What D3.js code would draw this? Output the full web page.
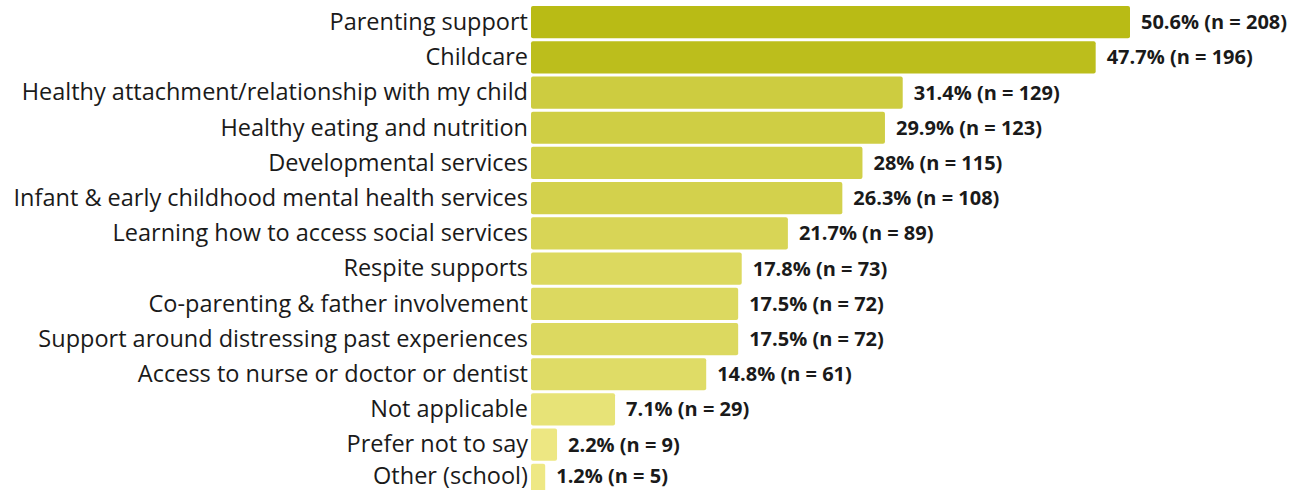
<!DOCTYPE html>
<html>
<head>
<meta charset="utf-8">
<script src="https://cdn.jsdelivr.net/npm/d3@7"></script>
<style>
  html, body { margin: 0; padding: 0; background: #fff; }
  svg { display: block; }
  .cat { font-family: "Open Sans", Lato, sans-serif; font-size: 23.5px; fill: #1a1a1a; }
  .val { font-family: "Open Sans", Lato, sans-serif; font-size: 20px; font-weight: 700; fill: #1a1a1a; }
</style>
</head>
<body>
<svg id="chart" width="1305" height="490"></svg>
<script>
const categories = [
  "Parenting support",
  "Childcare",
  "Healthy attachment/relationship with my child",
  "Healthy eating and nutrition",
  "Developmental services",
  "Infant & early childhood mental health services",
  "Learning how to access social services",
  "Respite supports",
  "Co-parenting & father involvement",
  "Support around distressing past experiences",
  "Access to nurse or doctor or dentist",
  "Not applicable",
  "Prefer not to say",
  "Other (school)"
];
const percents = [50.6, 47.7, 31.4, 29.9, 28, 26.3, 21.7, 17.8, 17.5, 17.5, 14.8, 7.1, 2.2, 1.2];
const counts = [208, 196, 129, 123, 115, 108, 89, 73, 72, 72, 61, 29, 9, 5];

const data = categories.map((c, i) => ({ cat: c, pct: percents[i], n: counts[i] }));

const svg = d3.select("#chart");
const plotLeft = 531, plotTop = 6;
const x = d3.scaleLinear().domain([0, 50.6]).range([plotLeft, 1130]);
const y = d3.scaleBand().domain(categories)
  .range([plotTop, plotTop + 35 * categories.length])
  .paddingInner(3 / 35).paddingOuter(0).align(0);
const color = d3.scaleLinear().domain([0, 50.6]).range(["#efe987", "#b9bb15"]).interpolate(d3.interpolateRgb);

const g = svg.append("g");

g.selectAll("rect.bar").data(data).join("rect")
  .attr("class", "bar")
  .attr("x", x(0))
  .attr("y", d => y(d.cat))
  .attr("width", d => x(d.pct) - x(0))
  .attr("height", y.bandwidth())
  .attr("rx", 2).attr("ry", 2)
  .attr("fill", d => color(d.pct));

// the bottom row sits at the lower edge, so nudge its text up to stay inside
const textY = (d, i) => y(d.cat) + y.bandwidth() / 2 - (i === data.length - 1 ? 4 : 0);

g.selectAll("text.cat").data(data).join("text")
  .attr("class", "cat")
  .attr("x", plotLeft - 3)
  .attr("y", textY)
  .attr("dy", "0.33em")
  .attr("text-anchor", "end")
  .text(d => d.cat);

g.selectAll("text.val").data(data).join("text")
  .attr("class", "val")
  .attr("x", d => x(d.pct) + 11)
  .attr("y", textY)
  .attr("dy", "0.35em")
  .text(d => `${d.pct}% (n = ${d.n})`);
</script>
</body>
</html>
